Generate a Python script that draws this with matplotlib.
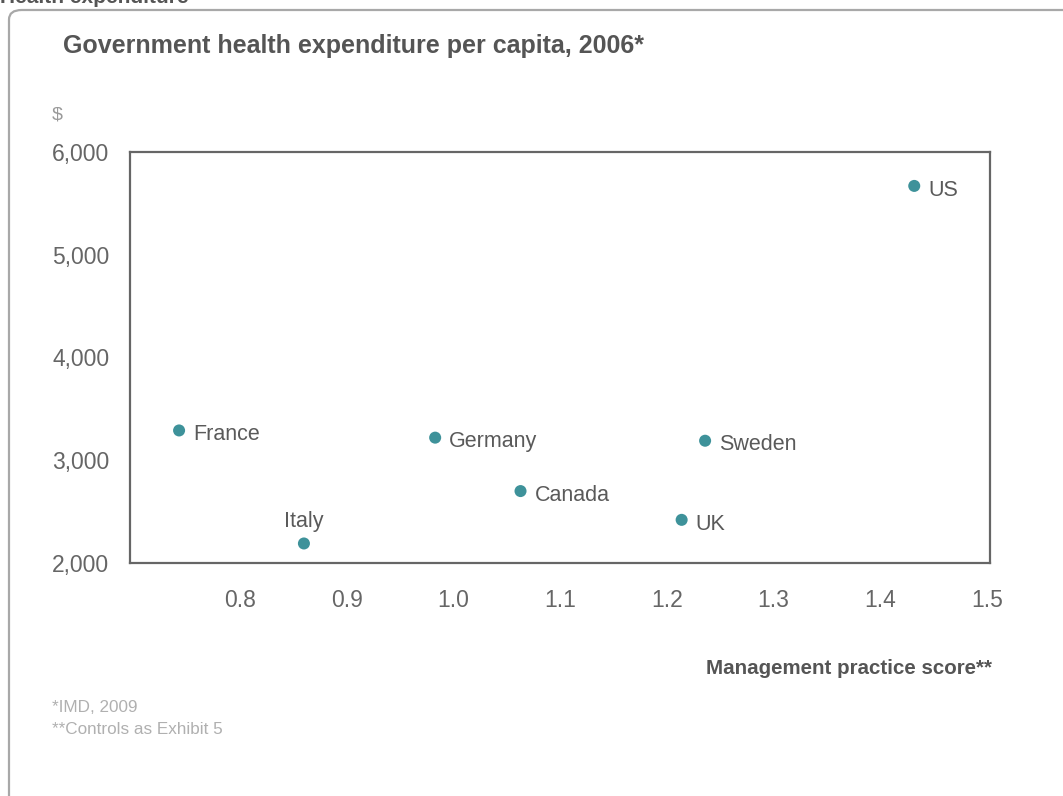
import matplotlib
matplotlib.use("Agg")
import matplotlib.pyplot as plt
from matplotlib.patches import FancyBboxPatch

countries = ["France", "Italy", "Germany", "Canada", "UK", "Sweden", "US"]
mgmt_score = [0.743, 0.860, 0.983, 1.063, 1.214, 1.236, 1.432]
health_spend = [3290, 2190, 3220, 2700, 2420, 3190, 5670]
x_ticks = [0.8, 0.9, 1.0, 1.1, 1.2, 1.3, 1.4, 1.5]
x_tick_labels = ["0.8", "0.9", "1.0", "1.1", "1.2", "1.3", "1.4", "1.5"]
y_ticks = [2000, 3000, 4000, 5000, 6000]
y_tick_labels = ["2,000", "3,000", "4,000", "5,000", "6,000"]

W, H = 1063, 796
plt.rcParams['font.family'] = ['Liberation Sans', 'DejaVu Sans']
fig = plt.figure(figsize=(W / 100, H / 100), dpi=100)

def fx(px):
    return px / W

def fy(py):
    return 1 - py / H

TEAL = "#3e929a"
TXT = "#5a5a5a"

# rounded border
border = FancyBboxPatch((fx(9), fy(830)), fx(1090) - fx(9), fy(10) - fy(830),
                        boxstyle="round,pad=0,rounding_size=0.012",
                        transform=fig.transFigure, fill=False,
                        edgecolor="#a8a8a8", linewidth=1.6, clip_on=False)
fig.patches.append(border)

fig.text(fx(0), fy(3), "Health expenditure", fontsize=15, fontweight='bold',
         color="#555555", ha='left', va='baseline')
fig.text(fx(63), fy(46), "Government health expenditure per capita, 2006*",
         fontsize=18, fontweight='bold', color="#555555", ha='left', va='center')
fig.text(fx(52), fy(115), "$", fontsize=14, color="#9a9a9a", ha='left', va='center')
fig.text(fx(992), fy(669), "Management practice score**", fontsize=14.8,
         fontweight='bold', color="#555555", ha='right', va='center')
fig.text(fx(52), fy(708), "*IMD, 2009", fontsize=12.3, color="#b0b0b0",
         ha='left', va='center')
fig.text(fx(52), fy(729), "**Controls as Exhibit 5", fontsize=12.3, color="#b0b0b0",
         ha='left', va='center')

ax = fig.add_axes([fx(130), fy(563), fx(990) - fx(130), fy(152) - fy(563)])
ax.scatter(mgmt_score, health_spend, s=75, color=TEAL, zorder=3, edgecolors='none')
ax.set_xlim(0.697, 1.503)
ax.set_ylim(2000, 6000)
ax.set_xticks(x_ticks)
ax.set_xticklabels(x_tick_labels)
ax.set_yticks(y_ticks)
ax.set_yticklabels(y_tick_labels)
ax.tick_params(length=0, labelsize=16.5, labelcolor="#666666")
ax.tick_params(axis='y', pad=15)
ax.tick_params(axis='x', pad=19)
for s in ax.spines.values():
    s.set_color("#666666")
    s.set_linewidth(1.6)

for name, xv, yv in zip(countries, mgmt_score, health_spend):
    if name == "Italy":
        ax.annotate(name, (xv, yv), xytext=(0, 8), textcoords='offset points',
                    ha='center', va='bottom', fontsize=15.5, color=TXT)
    else:
        ax.annotate(name, (xv, yv), xytext=(10, -3), textcoords='offset points',
                    ha='left', va='center', fontsize=15.5, color=TXT)

fig.savefig("out.png", dpi=100)
